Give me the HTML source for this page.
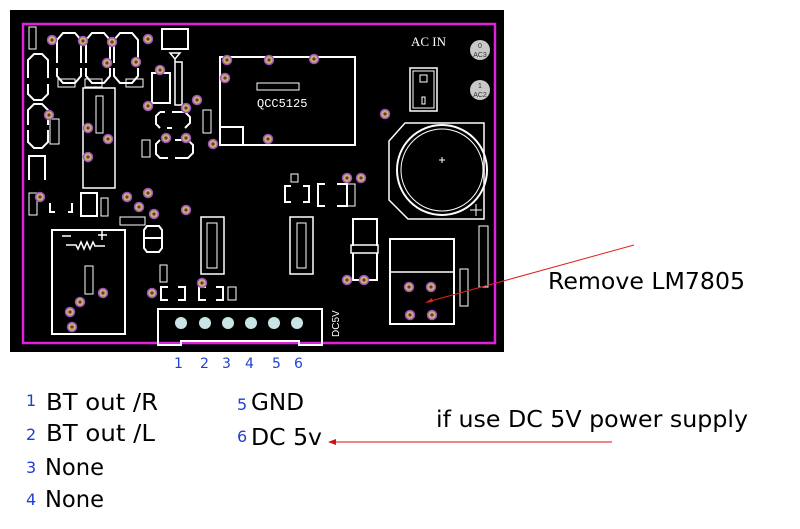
<!DOCTYPE html>
<html><head><style>
html,body{margin:0;padding:0;background:#fff;width:800px;height:529px;overflow:hidden}
svg{display:block}
.t{font-family:"DejaVu Sans","Liberation Sans",sans-serif}
</style></head><body>
<svg width="800" height="529" viewBox="0 0 800 529" xmlns="http://www.w3.org/2000/svg">
<defs>
<g id="p"><circle r="4.5" fill="#c8b070" stroke="#a050c0" stroke-width="1.5"/><circle r="1.6" fill="#604020"/></g>
</defs>
<rect x="10" y="10" width="494" height="342" fill="#000"/>
<rect x="23" y="24" width="472" height="319" fill="none" stroke="#e020e0" stroke-width="2.5"/>
<g fill="none" stroke="#fff" stroke-width="2">
<path d="M57 63 V40 l6-7 h12 l6 7 V63 M57 68 v8 l6 7 h12 l6-7 v-8"/>
<path d="M86 63 V40 l6-7 h12 l6 7 V63 M86 68 v8 l6 7 h12 l6-7 v-8"/>
<path d="M114 63 V40 l6-7 h12 l6 7 V63 M114 68 v8 l6 7 h12 l6-7 v-8"/>
<rect x="29" y="27" width="7" height="22" stroke-width="1"/>
<path d="M28 78 V60 l6-6 h8 l6 6 V78 M28 84 v10 l6 6 h8 l6-6 v-10"/>
<path d="M28 125 V110 l6-6 h8 l6 6 V125 M28 130 v12 l6 6 h8 l6-6 v-12"/>
<path d="M29 180 V156 h16 v24"/>
<rect x="58" y="79" width="17" height="8" stroke-width="1"/>
<rect x="85" y="79" width="17" height="8" stroke-width="1"/>
<rect x="126" y="79" width="17" height="8" stroke-width="1"/>
<rect x="83" y="88" width="32" height="100" stroke-width="1.5"/>
<rect x="96" y="96" width="7" height="37" stroke-width="1"/>
<rect x="50" y="119" width="9" height="25" stroke-width="1"/>
<rect x="162" y="29" width="26" height="20"/>
<path d="M170 53 h10 l-5 6 z M175 59 v46 h7 V62 h-7" stroke-width="1.5"/>
<rect x="152" y="73" width="18" height="30"/>
<path d="M160 112 l-4 4 v8 l4 4 M172 112 h13 l5 5 v6 l-5 5 M160 112 h5 M172 128 h-5"/>
<path d="M160 140 l-4 4 v10 l4 4 h8 M175 140 h13 l5 5 v8 l-5 5 h-13"/>
<rect x="203" y="110" width="8" height="23" stroke-width="1"/>
<rect x="142" y="140" width="8" height="17" stroke-width="1"/>
<path d="M220 57 H355 V145 H220 Z M220 127 h23 v18" stroke-width="2"/>
<rect x="257" y="83" width="42" height="7" stroke-width="1"/>
<rect x="410" y="68" width="27" height="43" stroke-width="1.5"/>
<rect x="413" y="71" width="21" height="37" stroke-width="1"/>
<rect x="420" y="75" width="7" height="7" stroke-width="1"/>
<rect x="422" y="97" width="3" height="7" stroke-width="1"/>
<path d="M405 123 H484 V219 H408 L389 200 V141 Z" stroke-width="1.5"/>
<circle cx="442" cy="170" r="45" stroke-width="2"/>
<circle cx="442" cy="170" r="41" stroke-width="1"/>
<path d="M470 210 h12 M476 204 v12 M442 157 v6 M439 160 h6" stroke-width="1"/>
<rect x="29" y="193" width="8" height="22" stroke-width="1"/>
<path d="M50 203 v9 h5 M72 203 v9 h-4"/>
<rect x="81" y="193" width="16" height="23"/>
<rect x="101" y="198" width="7" height="18" stroke-width="1"/>
<rect x="120" y="217" width="25" height="8" stroke-width="1"/>
<path d="M147 226 l-3 4 v18 l3 4 h12 l3-4 V230 l-3-4 Z M144 238 h18"/>
<rect x="160" y="265" width="7" height="17" stroke-width="1"/>
<rect x="52" y="230" width="73" height="104"/>
<path d="M62 236 h9 M98 235 h9 M102 231 v9 M66 245 h10 l2 4 l3-7 l3 7 l3-7 l3 7 l3-7 l2 4 h10" stroke-width="1.5"/>
<rect x="85" y="266" width="8" height="28" stroke-width="1"/>
<path d="M168 287 h-7 v13 h7 M178 287 h7 v13 h-7 M206 287 h-7 v13 h7 M216 287 h7 v13 h-7"/>
<rect x="228" y="287" width="8" height="13" stroke-width="1"/>
<rect x="201" y="217" width="23" height="57" stroke-width="1.5"/>
<rect x="207" y="223" width="10" height="45" stroke-width="1"/>
<rect x="290" y="217" width="23" height="57" stroke-width="1.5"/>
<rect x="297" y="223" width="9" height="45" stroke-width="1"/>
<rect x="291" y="174" width="7" height="8" stroke-width="1"/>
<path d="M291 186 h-6 v16 h6 M303 186 h6 v16 h-6"/>
<path d="M325 184 h-7 v22 h7 M337 184 h10 v22 h-10"/>
<rect x="347" y="184" width="8" height="22" stroke-width="1"/>
<path d="M353 246 v-27 h24 v27 M353 253 v27 h24 v-27"/>
<rect x="351" y="245" width="27" height="8" stroke-width="1.5"/>
<rect x="390" y="239" width="64" height="85"/>
<path d="M390 272 h64" stroke-width="1.5"/>
<rect x="460" y="269" width="8" height="37" stroke-width="1"/>
<rect x="479" y="226" width="9" height="61" stroke-width="1"/>
<path d="M158 345 V309 H322 V345 H299 V341 H181 V345 Z" stroke-width="2"/>
</g>
<text x="257" y="107" fill="#fff" font-size="12" font-family="Liberation Mono,monospace">QCC5125</text>
<text x="411" y="46" fill="#fff" font-size="13" font-family="Liberation Serif,serif">AC IN</text>
<text x="339" y="337" fill="#fff" font-size="10" font-family="Liberation Sans,sans-serif" transform="rotate(-90 339 337)">DC5V</text>
<circle cx="480" cy="50" r="10" fill="#c8c8c8"/><text x="480" y="48" font-size="7" text-anchor="middle" font-family="Liberation Sans,sans-serif" fill="#333">0</text><text x="480" y="57" font-size="7" text-anchor="middle" font-family="Liberation Sans,sans-serif" fill="#333">AC3</text>
<circle cx="480" cy="90" r="10" fill="#c8c8c8"/><text x="480" y="88" font-size="7" text-anchor="middle" font-family="Liberation Sans,sans-serif" fill="#333">1</text><text x="480" y="97" font-size="7" text-anchor="middle" font-family="Liberation Sans,sans-serif" fill="#333">AC2</text>
<g fill="#c8e4e4">
<circle cx="181" cy="323" r="6"/><circle cx="205" cy="323" r="6"/><circle cx="228" cy="323" r="6"/><circle cx="251" cy="323" r="6"/><circle cx="274" cy="323" r="6"/><circle cx="297" cy="323" r="6"/>
</g>
<g>
<use href="#p" x="52" y="40"/><use href="#p" x="83" y="41"/><use href="#p" x="112" y="42"/><use href="#p" x="148" y="39"/>
<use href="#p" x="107" y="63"/><use href="#p" x="136" y="62"/><use href="#p" x="160" y="70"/><use href="#p" x="49" y="115"/>
<use href="#p" x="88" y="128"/><use href="#p" x="108" y="139"/><use href="#p" x="88" y="157"/><use href="#p" x="148" y="106"/>
<use href="#p" x="186" y="108"/><use href="#p" x="197" y="100"/><use href="#p" x="166" y="138"/><use href="#p" x="186" y="138"/><use href="#p" x="213" y="144"/>
<use href="#p" x="227" y="60"/><use href="#p" x="225" y="78"/><use href="#p" x="269" y="60"/><use href="#p" x="314" y="59"/><use href="#p" x="268" y="139"/><use href="#p" x="385" y="114"/>
<use href="#p" x="40" y="197"/><use href="#p" x="127" y="197"/><use href="#p" x="148" y="193"/><use href="#p" x="139" y="207"/><use href="#p" x="154" y="214"/><use href="#p" x="186" y="210"/>
<use href="#p" x="152" y="293"/><use href="#p" x="202" y="283"/><use href="#p" x="103" y="293"/><use href="#p" x="80" y="302"/><use href="#p" x="70" y="312"/><use href="#p" x="72" y="327"/>
<use href="#p" x="347" y="178"/><use href="#p" x="361" y="178"/><use href="#p" x="347" y="280"/><use href="#p" x="364" y="280"/>
<use href="#p" x="409" y="287"/><use href="#p" x="431" y="287"/><use href="#p" x="410" y="315"/><use href="#p" x="432" y="315"/>
</g>
<line x1="634" y1="245" x2="427" y2="302" stroke="#e02020" stroke-width="1"/>
<path d="M425 303 l7 -5 l1 4 z" fill="#e02020"/>
<line x1="612" y1="442" x2="332" y2="442" stroke="#d01010" stroke-width="1"/>
<path d="M328 442 l8 -3 v6 z" fill="#d01010"/>
<g class="t" fill="#2040d0" font-size="14">
<text x="174" y="368">1</text><text x="200" y="368">2</text><text x="222" y="368">3</text><text x="245" y="368">4</text><text x="272" y="368">5</text><text x="294" y="368">6</text>
<text x="26" y="406" font-size="16">1</text><text x="26" y="440" font-size="16">2</text><text x="26" y="473" font-size="16">3</text><text x="26" y="505" font-size="16">4</text>
<text x="237" y="410" font-size="16">5</text><text x="237" y="442" font-size="16">6</text>
</g>
<g class="t" fill="#000" font-size="23">
<text x="46" y="410" textLength="112" lengthAdjust="spacingAndGlyphs">BT out /R</text>
<text x="46" y="441" textLength="109" lengthAdjust="spacingAndGlyphs">BT out /L</text>
<text x="45" y="475" textLength="59" lengthAdjust="spacingAndGlyphs">None</text>
<text x="45" y="507" textLength="59" lengthAdjust="spacingAndGlyphs">None</text>
<text x="251" y="410" textLength="53" lengthAdjust="spacingAndGlyphs">GND</text>
<text x="251" y="445" textLength="71" lengthAdjust="spacingAndGlyphs">DC 5v</text>
<text x="548" y="289" textLength="197" lengthAdjust="spacingAndGlyphs">Remove LM7805</text>
<text x="436" y="427" textLength="312" lengthAdjust="spacingAndGlyphs">if use DC 5V power supply</text>
</g>
</svg>
</body></html>
